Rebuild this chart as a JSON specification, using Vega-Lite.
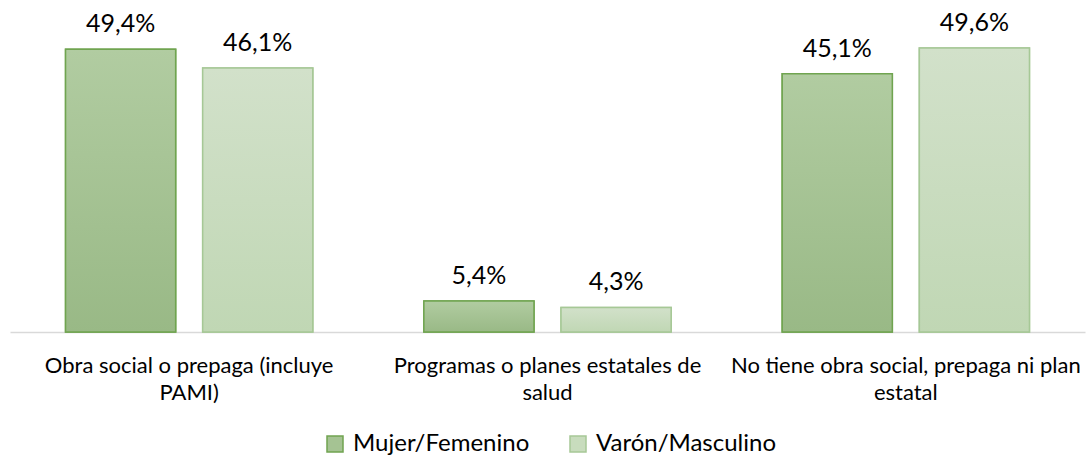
{
  "$schema": "https://vega.github.io/schema/vega-lite/v6.json",
  "width": 1075,
  "height": 332,
  "autosize": {"type": "none"},
  "padding": {"left": 10, "top": 0, "right": 3, "bottom": 129},
  "background": "white",
  "config": {
    "view": {"stroke": null},
    "font": "Lato",
    "locale": {"number": {"decimal": ",", "thousands": ".", "grouping": [3], "currency": ["", ""]}}
  },
  "data": {
    "values": [
      {"cat": "Obra social o prepaga (incluye PAMI)", "sexo": "Mujer/Femenino", "v": 0.494},
      {"cat": "Obra social o prepaga (incluye PAMI)", "sexo": "Varón/Masculino", "v": 0.461},
      {"cat": "Programas o planes estatales de salud", "sexo": "Mujer/Femenino", "v": 0.054},
      {"cat": "Programas o planes estatales de salud", "sexo": "Varón/Masculino", "v": 0.043},
      {"cat": "No tiene obra social, prepaga ni plan estatal", "sexo": "Mujer/Femenino", "v": 0.451},
      {"cat": "No tiene obra social, prepaga ni plan estatal", "sexo": "Varón/Masculino", "v": 0.496}
    ]
  },
  "encoding": {
    "x": {
      "field": "cat", "type": "nominal", "sort": null,
      "scale": {"paddingInner": 0.31, "paddingOuter": 0.155},
      "axis": {
        "title": null, "labelAngle": 0, "ticks": false, "domainColor": "#d9d9d9", "domainWidth": 1.5,
        "labelFontSize": 22, "labelColor": "#000000", "labelPadding": 23, "labelLineHeight": 27, "labelLimit": 500,
        "labelExpr": "datum.value == 'Obra social o prepaga (incluye PAMI)' ? ['Obra social o prepaga (incluye', 'PAMI)'] : datum.value == 'Programas o planes estatales de salud' ? ['Programas o planes estatales de', 'salud'] : ['No tiene obra social, prepaga ni plan', 'estatal']"
      }
    },
    "xOffset": {"field": "sexo", "type": "nominal", "scale": {"paddingInner": 0.197, "paddingOuter": 0}},
    "y": {"field": "v", "type": "quantitative", "scale": {"domain": [0, 0.58]}, "axis": null}
  },
  "layer": [
    {
      "mark": {"type": "bar", "strokeWidth": 1.5},
      "encoding": {
        "color": {
          "field": "sexo", "type": "nominal",
          "scale": {"domain": ["Mujer/Femenino", "Varón/Masculino"], "range": ["#a5c393", "#c8dcbd"]},
          "legend": {
            "title": null, "orient": "none", "direction": "horizontal", "legendX": 313, "legendY": 432,
            "symbolType": "square", "symbolSize": 256, "symbolStrokeWidth": 1.5, "labelFontSize": 24,
            "labelOffset": 6, "columnPadding": 36, "labelColor": "#000000", "labelLimit": 400
          }
        },
        "stroke": {
          "field": "sexo", "type": "nominal",
          "scale": {"domain": ["Mujer/Femenino", "Varón/Masculino"], "range": ["#70a450", "#a6c896"]},
          "legend": null
        }
      }
    },
    {
      "mark": {"type": "bar", "strokeWidth": 1.5},
      "encoding": {
        "fill": {
          "condition": {
            "test": "datum.sexo == 'Mujer/Femenino'",
            "value": {"gradient": "linear", "x1": 0, "y1": 0, "x2": 0, "y2": 1, "stops": [{"offset": 0, "color": "#b1cca1"}, {"offset": 1, "color": "#99b986"}]}
          },
          "value": {"gradient": "linear", "x1": 0, "y1": 0, "x2": 0, "y2": 1, "stops": [{"offset": 0, "color": "#d2e1ca"}, {"offset": 1, "color": "#c0d7b4"}]}
        },
        "stroke": {
          "condition": {"test": "datum.sexo == 'Mujer/Femenino'", "value": "#70a450"},
          "value": "#a6c896"
        }
      }
    },
    {
      "mark": {"type": "text", "baseline": "alphabetic", "dy": -17, "fontSize": 25, "color": "#000000"},
      "encoding": {"text": {"field": "v", "type": "quantitative", "format": ".1%"}}
    }
  ]
}
